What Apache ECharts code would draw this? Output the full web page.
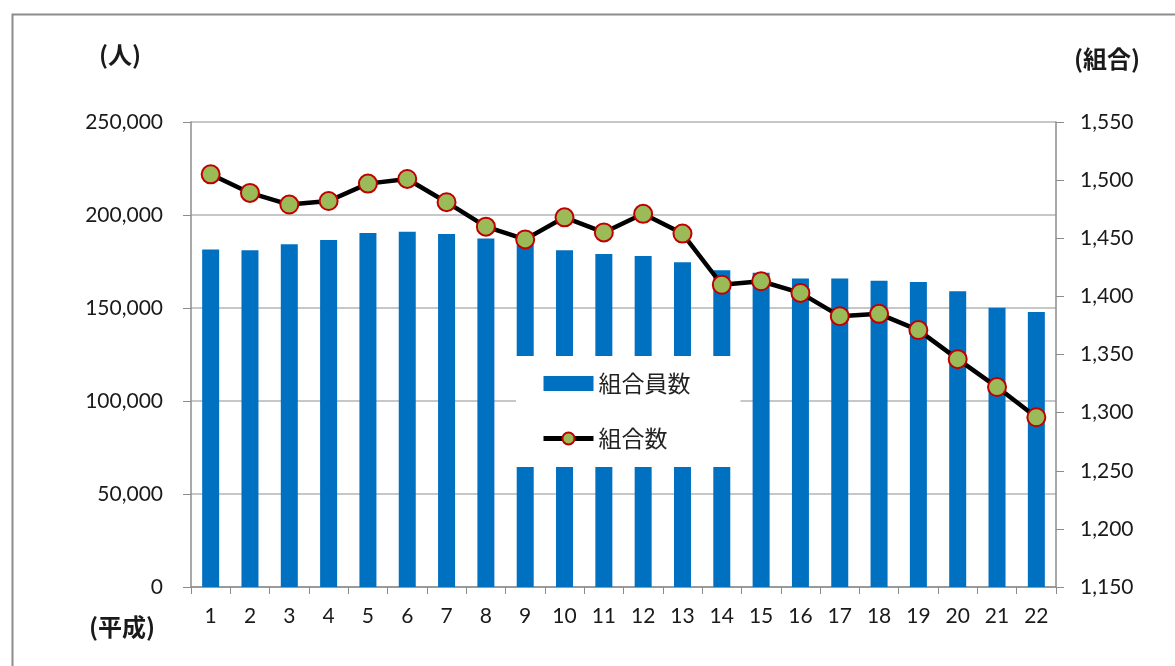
<!DOCTYPE html>
<html>
<head>
<meta charset="utf-8">
<script src="https://cdn.jsdelivr.net/npm/echarts@6/dist/echarts.min.js"></script>
<style>
html,body{margin:0;padding:0;background:#fff;}
#chart{width:1175px;height:666px;}
</style>
</head>
<body>
<div id="chart"></div>
<script>
const categories = ['1','2','3','4','5','6','7','8','9','10','11','12','13','14','15','16','17','18','19','20','21','22'];
const memberCounts = [181500, 181000, 184250, 186500, 190300, 191000, 189800, 187300, 186000, 181000, 179000, 178000, 174600, 170300, 169000, 165800, 165800, 164700, 164000, 159000, 150200, 147900];
const unionCounts = [1505, 1489, 1479, 1482, 1497, 1501, 1481, 1460, 1449, 1468, 1455, 1471, 1454, 1410, 1413, 1403, 1383, 1385, 1371, 1346, 1322, 1296];
const seriesNames = ['組合員数', '組合数'];
const leftUnit = '(人)';
const rightUnit = '(組合)';
const xUnit = '(平成)';

const chart = echarts.init(document.getElementById('chart'), null, {renderer: 'canvas'});
const numFont = 'Lato, "Open Sans", sans-serif';
const cjkFont = '"Noto Sans CJK JP", "Noto Sans", sans-serif';
const fmt = v => Number(v).toLocaleString('en-US');

chart.setOption({
  animation: false,
  backgroundColor: '#fff',
  grid: {left: 191, right: 119, top: 122, bottom: 79, containLabel: false},
  legend: {
    orient: 'vertical',
    left: 516, top: 356,
    padding: [16, 50, 17, 25],
    backgroundColor: '#fff',
    itemWidth: 50, itemHeight: 15, itemGap: 32,
    textStyle: {fontFamily: cjkFont, fontSize: 23, color: '#222'},
    data: [
      {name: seriesNames[0], icon: 'rect'},
      {name: seriesNames[1], lineStyle: {width: 5, color: '#000'}}
    ]
  },
  xAxis: {
    type: 'category',
    data: categories,
    boundaryGap: true,
    axisLine: {lineStyle: {color: '#8c8c8c', width: 1.5}},
    axisTick: {show: true, length: 7, lineStyle: {color: '#8c8c8c'}},
    axisLabel: {fontFamily: numFont, fontSize: 21, color: '#1a1a1a', margin: 19}
  },
  yAxis: [
    {
      type: 'value', min: 0, max: 250000, interval: 50000,
      axisLine: {show: true, lineStyle: {color: '#8c8c8c', width: 1.5}},
      axisTick: {show: true, length: 8, lineStyle: {color: '#8c8c8c'}},
      splitLine: {show: true, lineStyle: {color: '#b5b5b5', width: 1.5}},
      axisLabel: {fontFamily: numFont, fontSize: 21, color: '#1a1a1a', margin: 28, formatter: fmt}
    },
    {
      type: 'value', min: 1150, max: 1550, interval: 50, position: 'right',
      axisLine: {show: true, lineStyle: {color: '#8c8c8c', width: 1.5}},
      axisTick: {show: true, length: 8, lineStyle: {color: '#8c8c8c'}},
      splitLine: {show: false},
      axisLabel: {fontFamily: numFont, fontSize: 21, color: '#1a1a1a', margin: 24, formatter: fmt}
    }
  ],
  series: [
    {
      name: seriesNames[0],
      type: 'bar',
      yAxisIndex: 0,
      data: memberCounts,
      barWidth: 17,
      itemStyle: {color: '#0070C0'},
      z: 2
    },
    {
      name: seriesNames[1],
      type: 'line',
      yAxisIndex: 1,
      data: unionCounts,
      symbol: 'circle',
      symbolSize: 18,
      lineStyle: {color: '#000', width: 4.5},
      itemStyle: {color: '#9BBB59', borderColor: '#C00000', borderWidth: 2},
      z: 3
    }
  ],
  graphic: [
    {type: 'rect', left: 10, top: 12, shape: {width: 1250, height: 750}, style: {fill: 'none', stroke: '#8c8c8c', lineWidth: 2}, z: -1, silent: true},
    {type: 'text', x: 120, y: 55, style: {text: leftUnit, font: 'bold 24px ' + cjkFont, fill: '#1a1a1a', align: 'center', verticalAlign: 'middle'}},
    {type: 'text', x: 1107, y: 59, style: {text: rightUnit, font: 'bold 24px ' + cjkFont, fill: '#1a1a1a', align: 'center', verticalAlign: 'middle'}},
    {type: 'text', x: 122, y: 627, style: {text: xUnit, font: 'bold 24px ' + cjkFont, fill: '#1a1a1a', align: 'center', verticalAlign: 'middle'}}
  ]
});
</script>
</body>
</html>
